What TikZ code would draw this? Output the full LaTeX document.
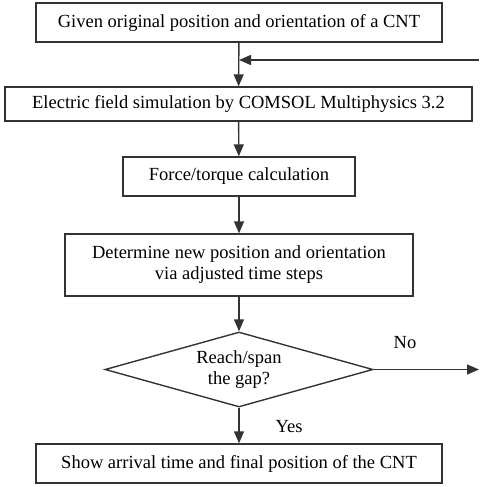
\documentclass[tikz,border=0pt]{standalone}
\usepackage{fontspec}
\setmainfont{Liberation Serif}
\usetikzlibrary{shapes.geometric,arrows.meta}
\begin{document}
\begin{tikzpicture}[x=1pt,y=1pt,
  line width=1.4pt, draw=black!80,
  txt/.style={font=\fontsize{18.5}{21}\selectfont},
  box/.style={draw=black!80, line width=1.4pt, inner sep=0pt, txt, align=center},
  arr/.style={draw=black!80, line width=1.4pt, -{Triangle[length=12pt,width=10pt]}},
  lab/.style={txt, inner sep=0pt}]
\useasboundingbox (0,0) rectangle (479,-487);
\node[box, minimum width=406pt, minimum height=39pt] (b1) at (239,-22.5) {Given original position and orientation of a CNT};
\node[box, minimum width=467pt, minimum height=34pt] (b2) at (238.5,-104) {Electric field simulation by COMSOL Multiphysics 3.2};
\node[box, minimum width=232pt, minimum height=39pt] (b3) at (239,-176.5) {Force/torque calculation};
\node[box, minimum width=348pt, minimum height=62pt] (b4) at (239,-265) {Determine new position and orientation\\via adjusted time steps};
\node[box, diamond, aspect=3.57, minimum width=268pt, minimum height=75pt, inner sep=0pt] (d) at (239,-369.5) {Reach/span\\the gap?};
\node[box, minimum width=406pt, minimum height=39pt] (b5) at (239,-463.5) {Show arrival time and final position of the CNT};
\coordinate (fin) at (479,-60);
\coordinate (mid) at (b1.south |- fin);
\coordinate (nout) at (479,-369.5);
\draw[arr] (b1) -- (b2);
\draw[arr] (fin) -- (mid);
\draw[arr] (b2) -- (b3);
\draw[arr] (b3) -- (b4);
\draw[arr] (b4) -- (d);
\draw[arr] (d.east) -- (nout);
\draw[arr] (d) -- (b5);
\node[lab] (no) at (405,-343) {No};
\node[lab] (yes) at (289,-427) {Yes};
\end{tikzpicture}
\end{document}
